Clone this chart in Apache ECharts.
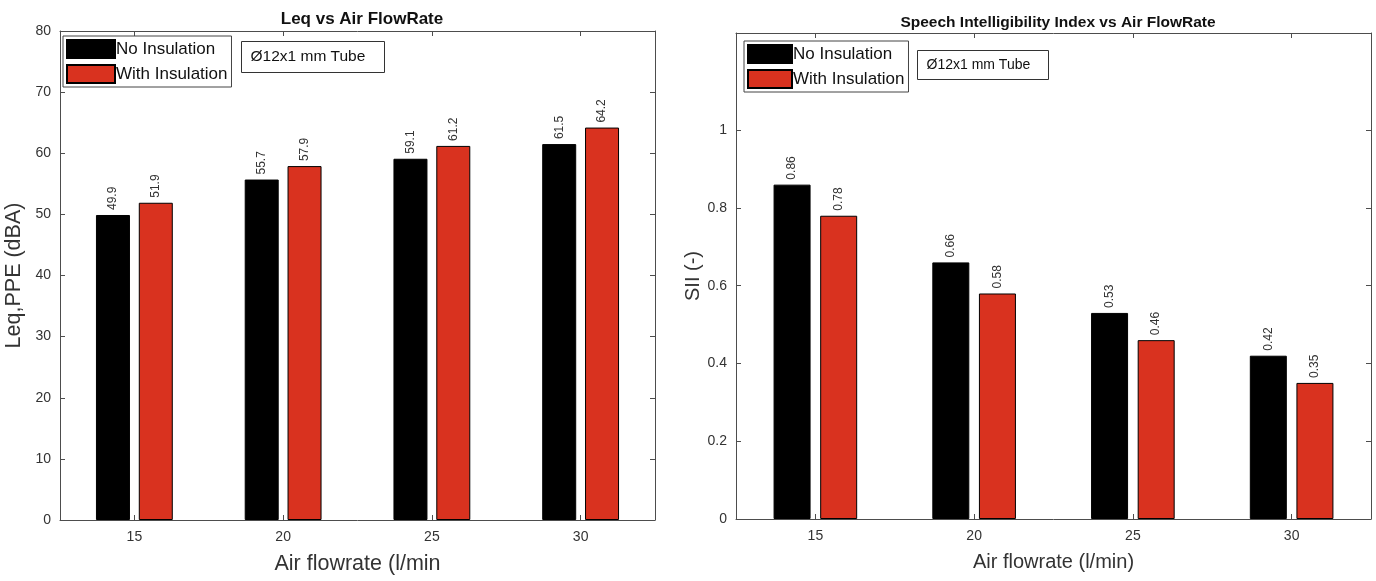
<!DOCTYPE html>
<html>
<head>
<meta charset="utf-8">
<script src="https://cdn.jsdelivr.net/npm/echarts@6/dist/echarts.min.js"></script>
<style>html,body{margin:0;padding:0;background:#fff;}#c{width:1376px;height:581px;}</style>
</head>
<body>
<div id="c"></div>
<script>
const categories = ['15', '20', '25', '30'];
const leqNoIns = [49.9, 55.7, 59.1, 61.5];
const leqWithIns = [51.9, 57.9, 61.2, 64.2];
const siiNoIns = [0.86, 0.66, 0.53, 0.42];
const siiWithIns = [0.78, 0.58, 0.46, 0.35];
const leqTicks = [0, 10, 20, 30, 40, 50, 60, 70, 80];
const siiTicks = [0, 0.2, 0.4, 0.6, 0.8, 1];
const seriesNames = ['No Insulation', 'With Insulation'];
const annotationText = 'Ø12x1 mm Tube';

const FONT = 'Liberation Sans, Arial, sans-serif';
const AX = '#4d4d4d';
const TXT = '#333333';
const RED = '#D9321F';

const chart = echarts.init(document.getElementById('c'), null, {renderer: 'canvas'});

function catAxis(grid, pos, showLabel, name, nameSize) {
  return {
    type: 'category', gridIndex: grid, position: pos, data: categories,
    boundaryGap: true,
    axisLine: {show: true, onZero: false, lineStyle: {color: AX, width: 1}},
    axisTick: {show: true, inside: true, alignWithLabel: true, length: 5, lineStyle: {color: AX}},
    axisLabel: {show: showLabel, color: TXT, fontSize: 14, fontFamily: FONT, margin: 10},
    splitLine: {show: false},
    name: name || '', nameLocation: 'middle', nameGap: 33,
    nameTextStyle: {color: TXT, fontSize: nameSize || 20, fontFamily: FONT}
  };
}
function valAxis(grid, pos, showLabel, min, max, interval, ticks, name, nameGap, nameSize) {
  return {
    type: 'value', gridIndex: grid, position: pos, min: min, max: max, interval: interval,
    axisLine: {show: true, onZero: false, lineStyle: {color: AX, width: 1}},
    axisTick: {show: true, inside: true, length: 5, lineStyle: {color: AX}, customValues: ticks},
    axisLabel: {show: showLabel, color: TXT, fontSize: 14, fontFamily: FONT, margin: 9, customValues: ticks},
    splitLine: {show: false},
    name: name || '', nameLocation: 'middle', nameGap: nameGap || 20, nameRotate: 90,
    nameTextStyle: {color: TXT, fontSize: nameSize || 20, fontFamily: FONT}
  };
}

function barSeries(name, data, xi, yi, color, bw, fmt) {
  return {
    type: 'bar', name: name, data: data, xAxisIndex: xi, yAxisIndex: yi,
    barWidth: bw, barGap: '26%',
    itemStyle: {color: color, borderColor: '#000', borderWidth: 1},
    label: {
      show: true, position: 'top', rotate: 90, align: 'left', verticalAlign: 'middle',
      distance: 5, color: TXT, fontSize: 12, fontFamily: FONT,
      formatter: p => fmt(p.value)
    },
    emphasis: {disabled: true}
  };
}

function legend(left, top, iw, ih, fs) {
  return {
    left: left, top: top, orient: 'vertical', data: seriesNames,
    itemWidth: iw, itemHeight: ih, itemGap: 5,
    padding: [3, 4, 3, 3], borderColor: '#444', borderWidth: 1, backgroundColor: '#fff',
    icon: 'rect', selectedMode: false,
    textStyle: {color: '#111', fontSize: fs, fontFamily: FONT, padding: [0, 0, 0, -4]}
  };
}

function annotation(x, y, w, h, fs) {
  return {
    type: 'group', left: x, top: y,
    children: [
      {type: 'rect', shape: {x: 0, y: 0, width: w, height: h}, style: {fill: '#fff', stroke: '#333', lineWidth: 1}},
      {type: 'text', x: 9, y: h / 2, style: {text: annotationText, fill: '#111', font: fs + 'px ' + FONT, verticalAlign: 'middle'}}
    ]
  };
}

const option = {
  backgroundColor: '#fff',
  animation: false,
  title: [
    {text: 'Leq vs Air FlowRate', left: 357, top: 6, textAlign: 'center',
     textStyle: {fontSize: 17, fontWeight: 'bold', color: '#111', fontFamily: FONT}},
    {text: 'Speech Intelligibility Index vs Air FlowRate', left: 1053, top: 10, textAlign: 'center',
     textStyle: {fontSize: 15.5, fontWeight: 'bold', color: '#111', fontFamily: FONT}}
  ],
  grid: [
    {left: 60, top: 31, width: 595, height: 489},
    {left: 736, top: 33, width: 635, height: 486}
  ],
  xAxis: [
    catAxis(0, 'bottom', true, 'Air flowrate (l/min', 21.5),
    catAxis(0, 'top', false),
    catAxis(1, 'bottom', true, 'Air flowrate (l/min)', 20),
    catAxis(1, 'top', false)
  ],
  yAxis: [
    valAxis(0, 'left', true, 0, 80, 10, leqTicks, 'Leq,PPE (dBA)', 35, 21.5),
    valAxis(0, 'right', false, 0, 80, 10, leqTicks),
    valAxis(1, 'left', true, 0, 1.25, 0.2, siiTicks, 'SII (-)', 27, 20),
    valAxis(1, 'right', false, 0, 1.25, 0.2, siiTicks)
  ],
  legend: [
    legend(63, 36, 48, 18, 17),
    legend(744, 41, 44, 18, 17)
  ],
  series: [
    barSeries(seriesNames[0], leqNoIns, 0, 0, '#000000', 34, v => v.toFixed(1)),
    barSeries(seriesNames[1], leqWithIns, 0, 0, RED, 34, v => v.toFixed(1)),
    barSeries(seriesNames[0], siiNoIns, 2, 2, '#000000', 37, v => String(v)),
    barSeries(seriesNames[1], siiWithIns, 2, 2, RED, 37, v => String(v))
  ],
  graphic: [
    annotation(241, 41, 143, 31, 15.5),
    annotation(917, 50, 131, 29, 14)
  ]
};
chart.setOption(option);
</script>
</body>
</html>
